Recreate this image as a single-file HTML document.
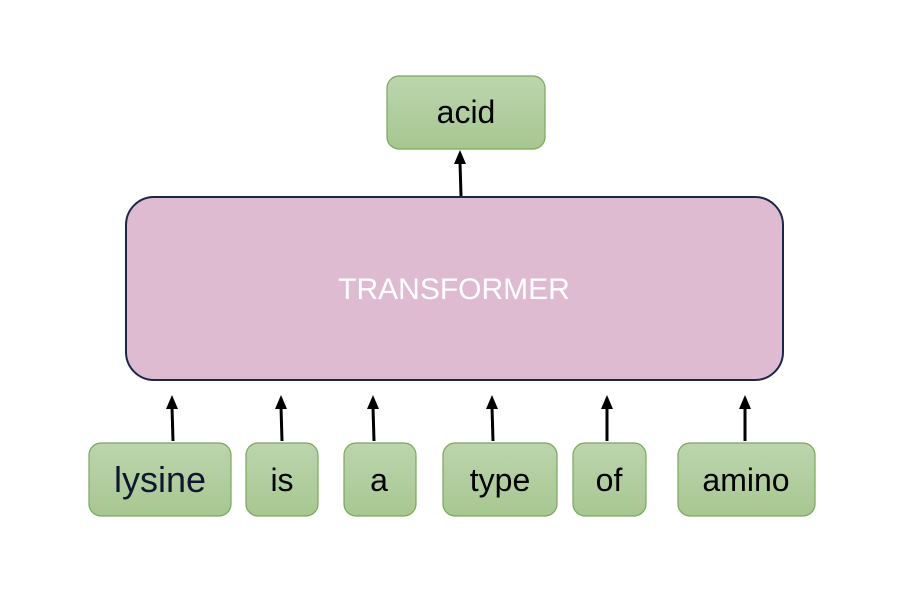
<!DOCTYPE html>
<html><head><meta charset="utf-8"><style>body{margin:0;background:#fff}</style></head>
<body>
<svg width="908" height="598" xmlns="http://www.w3.org/2000/svg" font-family="Liberation Sans, sans-serif">
<defs>
<linearGradient id="g" x1="0" y1="0" x2="0" y2="1"><stop offset="0" stop-color="#bcd5ad"/><stop offset="1" stop-color="#a7c791"/></linearGradient>
</defs>
<rect x="126" y="197" width="657" height="183" rx="28" fill="#dfbbd1" stroke="#1b2748" stroke-width="2"/>
<text x="454" y="299" font-size="30" fill="#fff" text-anchor="middle">TRANSFORMER</text>
<g stroke="#7aa75e" stroke-width="1.2" fill="url(#g)">
<rect x="387" y="76" width="158" height="73" rx="12"/>
<rect x="89" y="443" width="142" height="73" rx="12"/>
<rect x="246" y="443" width="72" height="73" rx="12"/>
<rect x="344" y="443" width="72" height="73" rx="12"/>
<rect x="443" y="443" width="114" height="73" rx="12"/>
<rect x="573" y="443" width="73" height="73" rx="12"/>
<rect x="678" y="443" width="137" height="73" rx="12"/>
</g>
<g font-size="32" text-anchor="middle" fill="#000">
<text x="466" y="123">acid</text>
<text x="160" y="492" font-size="36" fill="#0f1630">lysine</text>
<text x="282" y="491">is</text>
<text x="379" y="491">a</text>
<text x="500" y="491">type</text>
<text x="609" y="491">of</text>
<text x="746" y="491">amino</text>
</g>
<g stroke="#000" stroke-width="3">
<line x1="461" y1="196" x2="460" y2="162"/>
<line x1="173" y1="441" x2="172" y2="407"/>
<line x1="282" y1="441" x2="281" y2="407"/>
<line x1="374" y1="441" x2="373" y2="407"/>
<line x1="493" y1="441" x2="492" y2="407"/>
<line x1="607" y1="441" x2="607" y2="407"/>
<line x1="745" y1="441" x2="745" y2="407"/>
</g>
<g fill="#000">
<path d="M460,150 L466,164 L454,164 Z"/>
<path d="M172,395 L178,409 L166,409 Z"/>
<path d="M281,395 L287,409 L275,409 Z"/>
<path d="M373,395 L379,409 L367,409 Z"/>
<path d="M492,395 L498,409 L486,409 Z"/>
<path d="M607,395 L613,409 L601,409 Z"/>
<path d="M745,395 L751,409 L739,409 Z"/>
</g>
</svg>
</body></html>
